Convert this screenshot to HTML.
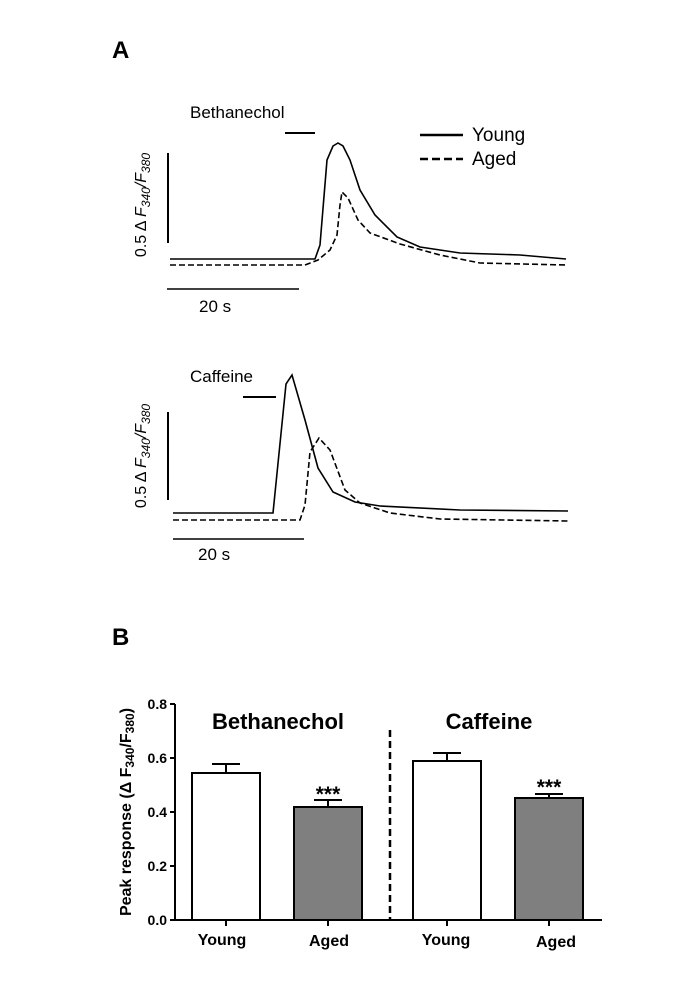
<!DOCTYPE html>
<html><head><meta charset="utf-8"><style>
html,body{margin:0;padding:0;background:#fff;}
svg{display:block;}
text{font-family:"Liberation Sans",Arial,sans-serif;fill:#000;}
</style></head><body>
<svg width="700" height="1007" viewBox="0 0 700 1007" xmlns="http://www.w3.org/2000/svg">
<text x="112" y="58" font-size="24" font-weight="bold">A</text>
<!-- Panel A1 -->
<text x="190" y="118" font-size="17">Bethanechol</text>
<line x1="285" y1="133" x2="315" y2="133" stroke="#000" stroke-width="2"/>
<line x1="420" y1="135" x2="463" y2="135" stroke="#000" stroke-width="2.5"/>
<text x="472" y="141" font-size="19">Young</text>
<line x1="420" y1="159" x2="463" y2="159" stroke="#000" stroke-width="2.5" stroke-dasharray="8,4"/>
<text x="472" y="165" font-size="19">Aged</text>
<line x1="168" y1="153" x2="168" y2="243" stroke="#000" stroke-width="2"/>
<text transform="translate(146,205) rotate(-90)" text-anchor="middle" font-size="16">0.5 Δ <tspan font-style="italic">F</tspan><tspan font-style="italic" font-size="12" dy="4">340</tspan><tspan font-style="italic" dy="-4">/F</tspan><tspan font-style="italic" font-size="12" dy="4">380</tspan></text>
<polyline fill="none" stroke="#000" stroke-width="1.6" points="170,259 315,259 320,245 327,160 333,146 338,143 343,146 350,160 360,190 375,215 397,237 420,247 460,253 520,255 566,259"/>
<polyline fill="none" stroke="#000" stroke-width="1.6" stroke-dasharray="6,3" points="170,265 305,265 318,260 330,250 337,235 340,205 342,192 348,198 358,220 370,233 400,244 440,255 480,263 566,265"/>
<line x1="167" y1="289" x2="299" y2="289" stroke="#000" stroke-width="1.5"/>
<text x="199" y="312" font-size="17">20 s</text>
<!-- Panel A2 -->
<text x="190" y="382" font-size="17">Caffeine</text>
<line x1="243" y1="397" x2="276" y2="397" stroke="#000" stroke-width="2"/>
<line x1="168" y1="412" x2="168" y2="500" stroke="#000" stroke-width="2"/>
<text transform="translate(146,456) rotate(-90)" text-anchor="middle" font-size="16">0.5 Δ <tspan font-style="italic">F</tspan><tspan font-style="italic" font-size="12" dy="4">340</tspan><tspan font-style="italic" dy="-4">/F</tspan><tspan font-style="italic" font-size="12" dy="4">380</tspan></text>
<polyline fill="none" stroke="#000" stroke-width="1.6" points="173,513 273,513 286,384 292,375 305,420 318,468 333,492 355,502 380,506 460,510 568,511"/>
<polyline fill="none" stroke="#000" stroke-width="1.6" stroke-dasharray="6,3" points="173,520 300,520 305,505 310,452 319,438 330,450 345,490 360,503 390,513 440,519 568,521"/>
<line x1="173" y1="539" x2="304" y2="539" stroke="#000" stroke-width="1.5"/>
<text x="198" y="560" font-size="17">20 s</text>
<!-- Panel B -->
<text x="112" y="645" font-size="24" font-weight="bold">B</text>
<g font-weight="bold" font-size="14">
<text x="167" y="709" text-anchor="end">0.8</text>
<text x="167" y="763" text-anchor="end">0.6</text>
<text x="167" y="817" text-anchor="end">0.4</text>
<text x="167" y="871" text-anchor="end">0.2</text>
<text x="167" y="925" text-anchor="end">0.0</text>
</g>
<g stroke="#000" stroke-width="2">
<line x1="175" y1="704" x2="175" y2="921"/>
<line x1="170" y1="704" x2="175" y2="704"/><line x1="170" y1="758" x2="175" y2="758"/><line x1="170" y1="812" x2="175" y2="812"/><line x1="170" y1="866" x2="175" y2="866"/>
<line x1="170" y1="920" x2="602" y2="920"/>
<line x1="226" y1="920" x2="226" y2="926"/><line x1="328" y1="920" x2="328" y2="926"/><line x1="447" y1="920" x2="447" y2="926"/><line x1="549" y1="920" x2="549" y2="926"/>
</g>
<text transform="translate(131,812) rotate(-90)" text-anchor="middle" font-size="16" font-weight="bold">Peak response (Δ F<tspan font-size="12" dy="3">340</tspan><tspan dy="-3">/F</tspan><tspan font-size="12" dy="3">380</tspan><tspan dy="-3">)</tspan></text>
<g stroke="#000" stroke-width="2">
<line x1="226" y1="773" x2="226" y2="764"/><line x1="212" y1="764" x2="240" y2="764"/>
<rect x="192" y="773" width="68" height="147" fill="#fff"/>
<line x1="328" y1="807" x2="328" y2="800"/><line x1="314" y1="800" x2="342" y2="800"/>
<rect x="294" y="807" width="68" height="113" fill="#7f7f7f"/>
<line x1="447" y1="761" x2="447" y2="753"/><line x1="433" y1="753" x2="461" y2="753"/>
<rect x="413" y="761" width="68" height="159" fill="#fff"/>
<line x1="549" y1="798" x2="549" y2="794"/><line x1="535" y1="794" x2="563" y2="794"/>
<rect x="515" y="798" width="68" height="122" fill="#7f7f7f"/>
<line x1="390" y1="730" x2="390" y2="920" stroke-width="2.5" stroke-dasharray="7,4"/>
</g>
<text x="278" y="729" text-anchor="middle" font-size="22" font-weight="bold">Bethanechol</text>
<text x="489" y="729" text-anchor="middle" font-size="22" font-weight="bold">Caffeine</text>
<text x="328" y="801" text-anchor="middle" font-size="21" font-weight="bold">***</text>
<text x="549" y="794" text-anchor="middle" font-size="21" font-weight="bold">***</text>
<g font-size="16" font-weight="bold" text-anchor="middle">
<text x="222" y="945">Young</text><text x="329" y="946">Aged</text>
<text x="446" y="945">Young</text><text x="556" y="947">Aged</text>
</g>
</svg>
</body></html>
